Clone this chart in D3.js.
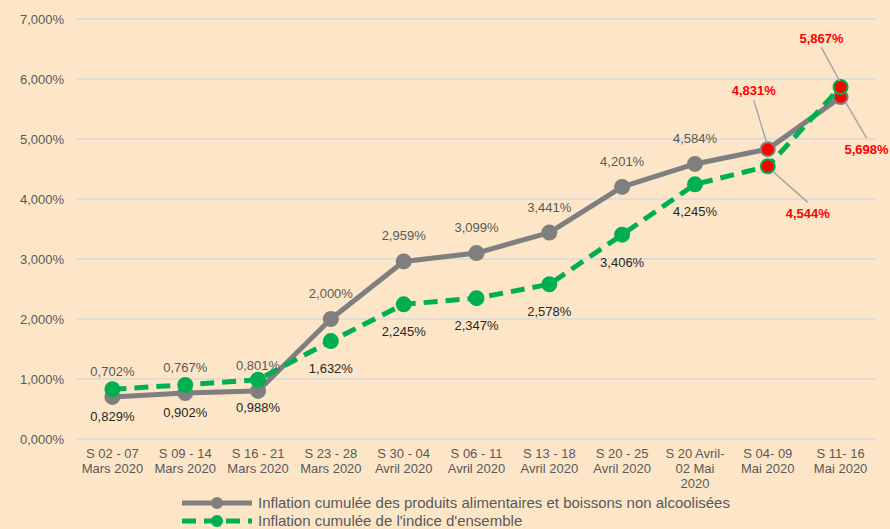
<!DOCTYPE html>
<meta charset="utf-8">
<html>
<head>
<style>
  body { margin: 0; background: #fde6c8; }
  svg { display: block; font-family: "Liberation Sans", Arial, sans-serif; }
  .axis text { fill: #595959; font-size: 13px; }
  .axis path, .axis line { display: none; }
</style>
</head>
<body>
<script src="https://cdn.jsdelivr.net/npm/d3@7"></script>
<script>
// data
var categories = [
  ["S 02 - 07", "Mars 2020"], ["S 09 - 14", "Mars 2020"], ["S 16 - 21", "Mars 2020"],
  ["S 23 - 28", "Mars 2020"], ["S 30 - 04", "Avril 2020"], ["S 06 - 11", "Avril 2020"],
  ["S 13 - 18", "Avril 2020"], ["S 20 - 25", "Avril 2020"], ["S 20 Avril-", "02 Mai", "2020"],
  ["S 04- 09", "Mai 2020"], ["S 11- 16", "Mai 2020"]
];
var alimentaire = [0.702, 0.767, 0.801, 2.000, 2.959, 3.099, 3.441, 4.201, 4.584, 4.831, 5.698];
var ensemble = [0.829, 0.902, 0.988, 1.632, 2.245, 2.347, 2.578, 3.406, 4.245, 4.544, 5.867];
var yTicks = [0, 1, 2, 3, 4, 5, 6, 7];
var seriesNames = [
  "Inflation cumulée des produits alimentaires et boissons non alcoolisées",
  "Inflation cumulée de l'indice d'ensemble"
];
// highlighted points (index 9 and 10) drawn in red
var highlight = [9, 10];

var W = 890, H = 529;
var margin = {top: 19, right: 13, bottom: 90, left: 76};
var width = W - margin.left - margin.right,
    height = H - margin.top - margin.bottom;

var fr = d3.formatLocale({decimal: ",", thousands: " ", grouping: [3], currency: ["", "€"]});
var pct = function(v) { return fr.format(".3f")(v) + "%"; };

var svg = d3.select("body").append("svg")
    .attr("width", W).attr("height", H);
svg.append("rect").attr("width", W).attr("height", H).attr("fill", "#fde6c8");

var g = svg.append("g")
    .attr("transform", "translate(" + margin.left + "," + margin.top + ")");

var x = d3.scaleBand().domain(d3.range(categories.length)).range([0, width]);
var y = d3.scaleLinear().domain([0, 7]).range([height, 0]);
var cx = function(i) { return x(i) + x.bandwidth() / 2; };

// grid
g.selectAll(".grid").data(yTicks).enter().append("line")
    .attr("x1", 0).attr("x2", width)
    .attr("y1", function(d) { return y(d); }).attr("y2", function(d) { return y(d); })
    .attr("stroke", "#d9d9dc").attr("stroke-width", 1.5);

// y axis
g.append("g").attr("class", "axis")
    .call(d3.axisLeft(y).tickValues(yTicks).tickSize(0).tickPadding(12).tickFormat(pct));

// x axis
var xa = g.append("g").attr("class", "axis")
    .attr("transform", "translate(0," + height + ")")
    .call(d3.axisBottom(x).tickSize(0).tickFormat(""));
xa.selectAll(".tick").each(function(i) {
  var t = d3.select(this).append("text").attr("text-anchor", "middle").attr("y", 19);
  categories[i].forEach(function(s, k) {
    t.append("tspan").attr("x", 0).attr("dy", k === 0 ? 0 : 15).text(s);
  });
});

var line = d3.line().x(function(d, i) { return cx(i); }).y(function(d) { return y(d); });

// gray series
g.append("path").datum(alimentaire)
    .attr("d", line).attr("fill", "none")
    .attr("stroke", "#7f7f7f").attr("stroke-width", 5).attr("stroke-linejoin", "round");
g.selectAll(".m1").data(alimentaire).enter().append("circle")
    .attr("cx", function(d, i) { return cx(i); }).attr("cy", function(d) { return y(d); })
    .attr("r", 7)
    .attr("fill", function(d, i) { return highlight.indexOf(i) >= 0 ? "#ff0000" : "#7f7f7f"; })
    .attr("stroke", "#7f7f7f").attr("stroke-width", 2);

// green series
g.append("path").datum(ensemble)
    .attr("d", line).attr("fill", "none")
    .attr("stroke", "#00b050").attr("stroke-width", 5).attr("stroke-dasharray", "14,8");
g.selectAll(".m2").data(ensemble).enter().append("circle")
    .attr("cx", function(d, i) { return cx(i); }).attr("cy", function(d) { return y(d); })
    .attr("r", 7)
    .attr("fill", function(d, i) { return highlight.indexOf(i) >= 0 ? "#ff0000" : "#00b050"; })
    .attr("stroke", "#00b050").attr("stroke-width", 2);

// labels for normal points
g.selectAll(".l1").data(alimentaire).enter().filter(function(d, i) { return highlight.indexOf(i) < 0; })
  .append("text")
    .attr("x", function(d, i) { return cx(i); }).attr("y", function(d) { return y(d) - 21; })
    .attr("text-anchor", "middle").attr("font-size", 13).attr("fill", "#595959")
    .text(pct);
g.selectAll(".l2").data(ensemble).enter().filter(function(d, i) { return highlight.indexOf(i) < 0; })
  .append("text")
    .attr("x", function(d, i) { return cx(i); }).attr("y", function(d) { return y(d) + 32; })
    .attr("text-anchor", "middle").attr("font-size", 13).attr("fill", "#262626")
    .text(pct);

// highlighted labels with leader lines: [series, index, dx, dy]
var callouts = [
  [alimentaire, 9, -14, -59],
  [ensemble, 9, 40, 47],
  [ensemble, 10, -19, -49],
  [alimentaire, 10, 26, 52]
];
callouts.forEach(function(c) {
  var px = cx(c[1]), py = y(c[0][c[1]]);
  var tx = px + c[2], ty = py + c[3];
  var up = c[3] < 0;
  g.append("line")
      .attr("x1", px + (c[2] > 0 ? 5 : -1)).attr("y1", py + (up ? -6 : 5))
      .attr("x2", tx).attr("y2", ty + (up ? 10 : -11))
      .attr("stroke", "#a6a6a6").attr("stroke-width", 1.5);
  g.append("text").attr("x", tx).attr("y", ty + 5)
      .attr("text-anchor", "middle").attr("font-size", 13).attr("font-weight", "bold")
      .attr("fill", "#ff0000").text(pct(c[0][c[1]]));
});

// legend
var legend = svg.append("g");
[["#7f7f7f", null], ["#00b050", "14,8"]].forEach(function(s, k) {
  var ly = 503 + k * 18;
  legend.append("line").attr("x1", 182).attr("x2", 252).attr("y1", ly).attr("y2", ly)
      .attr("stroke", s[0]).attr("stroke-width", 5).attr("stroke-dasharray", s[1]);
  legend.append("circle").attr("cx", 217).attr("cy", ly).attr("r", 6).attr("fill", s[0]);
  legend.append("text").attr("x", 258).attr("y", ly + 5)
      .attr("font-size", 15).attr("fill", "#595959").text(seriesNames[k]);
});
</script>
</body>
</html>
